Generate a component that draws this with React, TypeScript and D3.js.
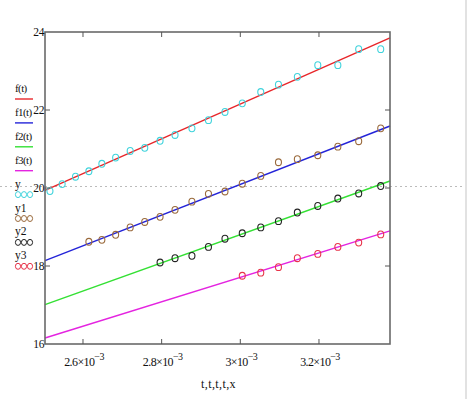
import React from 'react';
import * as d3 from 'd3';

// x values are in units of 1e-3
const xPts = [2.516, 2.547, 2.581, 2.615, 2.648, 2.683, 2.72, 2.757, 2.796, 2.834, 2.877,
  2.919, 2.961, 3.005, 3.052, 3.097, 3.145, 3.197, 3.248, 3.301, 3.357];

const y = [19.92, 20.1, 20.29, 20.43, 20.62, 20.78, 20.95, 21.03, 21.21, 21.36, 21.53,
  21.74, 21.95, 22.17, 22.46, 22.65, 22.85, 23.15, 23.15, 23.56, 23.56];
const y1 = [18.62, 18.67, 18.8, 18.99, 19.13, 19.26, 19.44, 19.65, 19.85, 19.91, 20.11,
  20.31, 20.66, 20.74, 20.84, 21.06, 21.2, 21.53];
const y2 = [18.09, 18.2, 18.26, 18.49, 18.7, 18.84, 18.99, 19.15, 19.37, 19.54, 19.73, 19.86, 20.05];
const y3 = [17.75, 17.83, 17.97, 18.2, 18.31, 18.49, 18.6, 18.81];

// fitted lines, evaluated at both ends of the x range
const tEnds = [2.5034, 3.3806];
const f = [19.94, 23.85];
const f1 = [18.14, 21.59];
const f2 = [17.01, 20.18];
const f3 = [16.154, 18.9];

const xTicks = [2.6, 2.8, 3.0, 3.2];
const xTickLabels = ['2.6', '2.8', '3', '3.2'];
const yTicks = [16, 18, 20, 22, 24];

const lines = [
  { name: 'f(t)', vals: f, color: '#e8262a' },
  { name: 'f1(t)', vals: f1, color: '#2424d8' },
  { name: 'f2(t)', vals: f2, color: '#34e034' },
  { name: 'f3(t)', vals: f3, color: '#e424e0' },
];

const points = [
  { name: 'y', vals: y, color: '#3fd3dc' },
  { name: 'y1', vals: y1, color: '#9a6a3c' },
  { name: 'y2', vals: y2, color: '#222222' },
  { name: 'y3', vals: y3, color: '#e8344a' },
];

const W = 468;
const H = 399;
const m = { left: 45, right: 390, top: 32, bottom: 344 };
const font = '"Liberation Serif", "Times New Roman", serif';

export default function App() {
  const x = d3.scaleLinear().domain(tEnds).range([m.left, m.right]);
  const yS = d3.scaleLinear().domain([16, 24]).range([m.bottom, m.top]);
  const line = d3.line<[number, number]>().x((d) => x(d[0])).y((d) => yS(d[1]));
  const tick = 5;

  return (
    <svg width={W} height={H} style={{ position: 'absolute', left: 0, top: 0, background: '#fff' }}>
      {/* page decorations */}
      <line x1={0} x2={W} y1={186.5} y2={186.5} stroke="#bbb" strokeDasharray="2,3" />
      <line x1={466} x2={466} y1={0} y2={H} stroke="#e2e2e2" strokeWidth={2} />

      {/* fitted lines */}
      {lines.map((l) => (
        <path key={l.name} d={line(tEnds.map((t, i) => [t, l.vals[i]]) as [number, number][]) || ''}
          stroke={l.color} strokeWidth={1.4} fill="none" />
      ))}

      {/* measured points, aligned to the right end of xPts */}
      {points.map((p) => {
        const off = xPts.length - p.vals.length;
        return p.vals.map((v, i) => (
          <ellipse key={p.name + i} cx={x(xPts[i + off])} cy={yS(v)} rx={3} ry={3.4}
            fill="none" stroke={p.color} strokeWidth={1.1} />
        ));
      })}

      {/* frame */}
      <rect x={m.left} y={m.top} width={m.right - m.left} height={m.bottom - m.top}
        fill="none" stroke="#6a6a6a" strokeWidth={1.6} />

      {/* ticks */}
      {xTicks.map((t, i) => (
        <g key={'xt' + i}>
          <line x1={x(t)} x2={x(t)} y1={m.bottom} y2={m.bottom - tick} stroke="#555" />
          <line x1={x(t)} x2={x(t)} y1={m.top} y2={m.top + tick} stroke="#555" />
          <text x={x(t) + 1} y={366} textAnchor="middle" fontFamily={font} fontSize={12} letterSpacing={-0.6} fill="#111">
            {xTickLabels[i]}×10
            <tspan dy={-6} fontSize={10}>−3</tspan>
          </text>
        </g>
      ))}
      {yTicks.map((t) => (
        <g key={'yt' + t}>
          {t > 16 && t < 24 && (
            <>
              <line x1={m.left} x2={m.left + tick} y1={yS(t)} y2={yS(t)} stroke="#555" />
              <line x1={m.right} x2={m.right - tick} y1={yS(t)} y2={yS(t)} stroke="#555" />
            </>
          )}
          <text x={m.left - 1} y={yS(t) + 4} textAnchor="end" fontFamily={font} fontSize={11.5} letterSpacing={-0.4} fill="#111">{t}</text>
        </g>
      ))}

      <text x={(m.left + m.right) / 2 + 1} y={388} textAnchor="middle" fontFamily={font} fontSize={12} letterSpacing={0.4} fill="#111">t,t,t,t,x</text>

      {/* legend */}
      {lines.map((l, i) => (
        <g key={'lg' + i}>
          <text x={15} y={92 + 23.9 * i} fontFamily={font} fontSize={11} letterSpacing={-0.6} fill="#111">{l.name}</text>
          <line x1={15} x2={33} y1={99 + 23.9 * i} y2={99 + 23.9 * i} stroke={l.color} strokeWidth={1.4} />
        </g>
      ))}
      {points.map((p, i) => (
        <g key={'lp' + i}>
          <text x={15} y={92 + 23.9 * (i + 4)} fontFamily={font} fontSize={11.5} fill="#111">{p.name}</text>
          {[0, 1, 2].map((k) => (
            <ellipse key={k} cx={18 + k * 6} cy={99 + 23.9 * (i + 4)} rx={2.6} ry={3}
              fill="none" stroke={p.color} strokeWidth={1} />
          ))}
        </g>
      ))}
    </svg>
  );
}
